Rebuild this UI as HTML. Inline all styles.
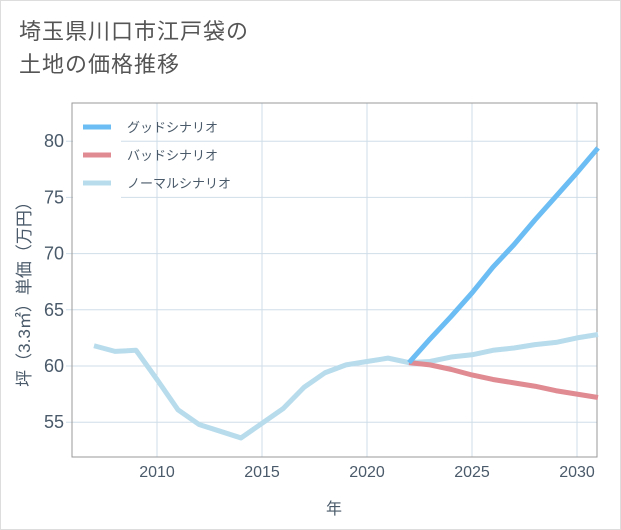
<!DOCTYPE html>
<html><head><meta charset="utf-8"><style>
body{margin:0;background:#fff;}
#wrap{position:relative;width:619px;height:528px;border:1px solid #ddd;background:#fff;font-family:"Liberation Sans","Noto Sans CJK JP",sans-serif;}
#title{position:absolute;left:18px;top:14px;font-size:22px;line-height:33px;color:#555;letter-spacing:1px;}
svg text{font-family:"Liberation Sans","Noto Sans CJK JP",sans-serif;}
</style></head><body>
<div id="wrap">
<div id="title">埼玉県川口市江戸袋の<br>土地の価格推移</div>
<svg id="chart" width="621" height="530" style="position:absolute;left:-1px;top:-1px"></svg>
</div>
<script>
const years=[2007,2008,2009,2010,2011,2012,2013,2014,2015,2016,2017,2018,2019,2020,2021,2022,2023,2024,2025,2026,2027,2028,2029,2030,2031];
const normalValues=[61.8,61.3,61.4,58.8,56.1,54.8,54.2,53.6,54.9,56.2,58.1,59.4,60.1,60.4,60.7,60.3,60.4,60.8,61.0,61.4,61.6,61.9,62.1,62.5,62.8];
const futureYears=[2022,2023,2024,2025,2026,2027,2028,2029,2030,2031];
const goodValues=[60.3,62.4,64.4,66.5,68.8,70.8,73.0,75.1,77.2,79.4];
const badValues=[60.3,60.1,59.7,59.2,58.8,58.5,58.2,57.8,57.5,57.2];
const xTicks=[2010,2015,2020,2025,2030];
const yTicks=[55,60,65,70,75,80];
const seriesNames=["グッドシナリオ","バッドシナリオ","ノーマルシナリオ"];
const seriesColors=["#6bbdf3","#e08a92","#b8dcec"];

const NS="http://www.w3.org/2000/svg";
const svg=document.getElementById('chart');
const L=72,R=597,T=103,B=457;
const TXT='#4a5a6a';
const x=v=>157+(v-2010)*21;
const y=v=>366-(v-60)*11.24;
function mk(tag,attrs,parent){const e=document.createElementNS(NS,tag);for(const k in attrs)e.setAttribute(k,attrs[k]);(parent||svg).appendChild(e);return e;}

for(const t of xTicks){
 const g=mk('line',{x1:x(t),x2:x(t),y1:T,y2:B,stroke:'#cfdde8','stroke-width':1});
 
 
 const lb=mk('text',{x:x(t),y:B+20,'text-anchor':'middle','font-size':16,fill:TXT});
 lb.textContent=t;
 
 
}
for(const t of yTicks){
 const g=mk('line',{x1:L-6,x2:R,y1:y(t),y2:y(t),stroke:'#cfdde8','stroke-width':1});
 
 
 const lb=mk('text',{x:L-8,y:y(t)+6,'text-anchor':'end','font-size':18,fill:TXT});
 lb.textContent=t;
 
 
}
const lbg=mk('rect',{x:L+1,y:T+5,width:48,height:92,fill:'#fff'});


const fr=mk('rect',{x:L,y:T,width:R-L,height:B-T,fill:'none',stroke:'#999','stroke-width':1});



function line(xs,vs,color,name){
 const p=mk('polyline',{points:xs.map((a,i)=>x(a)+','+y(vs[i])).join(' '),fill:'none',stroke:color,'stroke-width':5,'stroke-linejoin':'round'});
 
 
}
line(years,normalValues,seriesColors[2],'normal-scenario-line');
line(futureYears,badValues,seriesColors[1],'bad-scenario-line');
line(futureYears,goodValues,seriesColors[0],'good-scenario-line');

seriesNames.forEach((n,i)=>{
 const yy=T+24+i*28;
 const s=mk('line',{x1:83,x2:111,y1:yy,y2:yy,stroke:seriesColors[i],'stroke-width':5});
 
 
 const tx=mk('text',{x:127,y:yy+5,'font-size':13,fill:TXT});
 tx.textContent=n;
 
 
});

const xt=mk('text',{x:334,y:514,'text-anchor':'middle','font-size':16,fill:TXT});
xt.textContent='年';


const yt=mk('text',{x:0,y:0,'text-anchor':'middle','font-size':17,fill:TXT,transform:'translate(30,290) rotate(-90)'});
yt.textContent='坪（3.3㎡）単価（万円）';


</script>
</body></html>
